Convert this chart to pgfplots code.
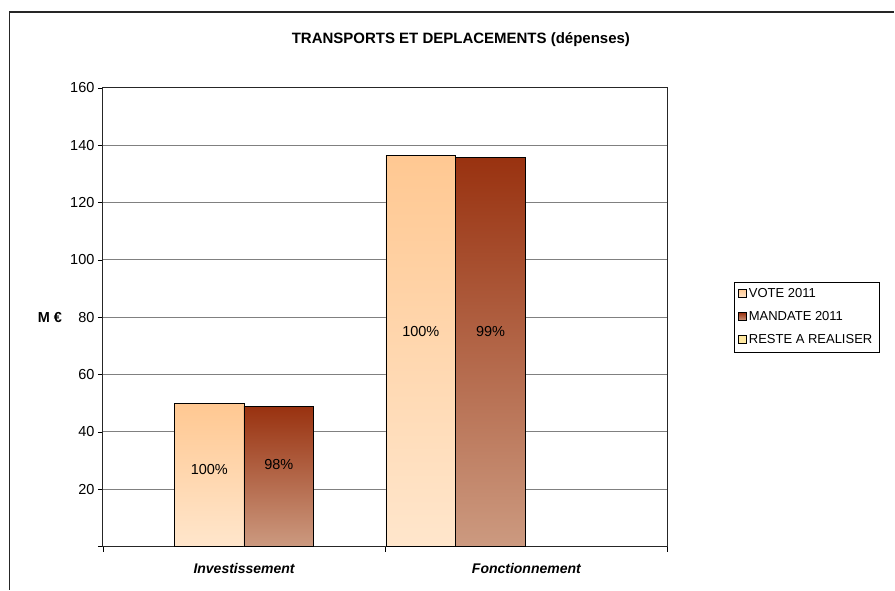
\documentclass[border=0pt]{standalone}
\usepackage{pgfplots}
\pgfplotsset{compat=1.18}
\usepackage{fontspec}
\setmainfont{Liberation Sans}

\definecolor{voteTop}{HTML}{FFC892}
\definecolor{voteBot}{HTML}{FFE6CC}
\definecolor{mandTop}{HTML}{993210}
\definecolor{mandBot}{HTML}{CC9A80}
\definecolor{resteCol}{HTML}{FFE8A0}
\definecolor{gridgray}{HTML}{808080}

\begin{document}
\begin{tikzpicture}
\begin{axis}[
    scale only axis,
    width=565pt, height=459pt,
    xmin=0, xmax=2, ymin=0, ymax=160,
    xtick={0,1,2},
    x tick label as interval=true,
    xticklabels={Investissement,Fonctionnement},
    xticklabel style={font=\fontsize{14}{16}\selectfont\bfseries\itshape, yshift=-8pt},
    ytick={0,20,...,160},
    yticklabels={,20,40,60,80,100,120,140,160},
    yticklabel style={font=\fontsize{14.5}{16}\selectfont},
    /pgf/number format/assume math mode=true,
    tick align=outside,
    major tick length=5pt,
    xtick pos=bottom, ytick pos=left,
    tick style={black, line width=0.8pt},
    ymajorgrids,
    grid style={gridgray, line width=0.9pt},
    axis line style={black!85, line width=0.9pt},
    ybar, bar shift=0pt, bar width=0.247,
    vote/.style={draw=black, line width=0.8pt, shading=axis, top color=voteTop, bottom color=voteBot},
    mand/.style={draw=black, line width=0.8pt, shading=axis, top color=mandTop, bottom color=mandBot},
    title={TRANSPORTS ET DEPLACEMENTS (dépenses)},
    title style={font=\fontsize{15}{17}\selectfont\bfseries, at={(0.634,1.092)}, anchor=center, yshift=0pt},
    every axis y label/.style={at={(-0.094,0.499)}, anchor=center, font=\fontsize{14.5}{16}\selectfont\bfseries},
    ylabel={M €},
    legend style={at={(1.117,0.577)}, anchor=north west, draw=black, line width=0.6pt,
        font=\fontsize{13}{15}\selectfont, row sep=8.5pt, inner sep=4.5pt,
        cells={anchor=west}},
]
\coordinate (O) at (rel axis cs:0,0);
% Investissement
\addplot[vote, legend image code/.code={\draw[fill=voteTop, draw=black, line width=0.5pt] (0pt,-3.5pt) rectangle (8pt,4.5pt);}]
    coordinates {(0.377,49.8)};
\addlegendentry{VOTE 2011}
\addplot[mand, legend image code/.code={\draw[fill=mandTop!70!mandBot, draw=black, line width=0.5pt] (0pt,-3.5pt) rectangle (8pt,4.5pt);}]
    coordinates {(0.623,48.8)};
\addlegendentry{MANDATE 2011}
\addlegendimage{legend image code/.code={\draw[fill=resteCol, draw=black, line width=0.5pt] (0pt,-3.5pt) rectangle (8pt,4.5pt);}}
\addlegendentry{RESTE A REALISER}
% Fonctionnement
\addplot[vote, forget plot] coordinates {(1.126,136.3)};
\addplot[mand, forget plot] coordinates {(1.373,135.9)};
\node[font=\fontsize{14.5}{16}\selectfont] at (axis cs:0.377,26.8) {100\%};
\node[font=\fontsize{14.5}{16}\selectfont] at (axis cs:0.623,28.6) {98\%};
\node[font=\fontsize{14.5}{16}\selectfont] at (axis cs:1.126,74.9) {100\%};
\node[font=\fontsize{14.5}{16}\selectfont] at (axis cs:1.373,74.9) {99\%};
\end{axis}
\draw[black!85, line width=1.3pt] ([shift={(-93.5pt,-43pt)}]O) -- ([shift={(-93.5pt,535pt)}]O) -- ([shift={(792pt,535pt)}]O);
\useasboundingbox ([shift={(-103pt,-43pt)}]O) rectangle ([shift={(792pt,547pt)}]O);
\end{tikzpicture}
\end{document}
